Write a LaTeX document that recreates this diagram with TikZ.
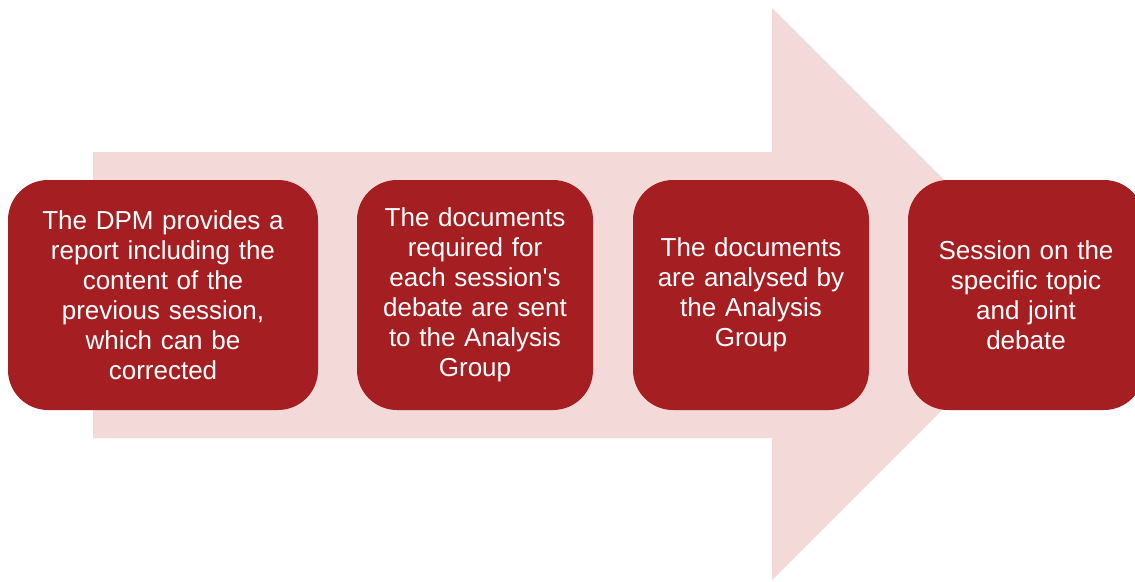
\documentclass[tikz,border=0pt]{standalone}
\usepackage{fontspec}
\setmainfont{Liberation Sans}
\definecolor{stepred}{HTML}{A51E22}
\definecolor{arrowpink}{HTML}{F4D9D9}
\begin{document}
\begin{tikzpicture}[x=1pt,y=-1pt,
  stepbox/.style={fill=stepred, draw=none, rounded corners=40pt,
    minimum height=230pt, text=white, align=center,
    font=\fontsize{26}{30}\selectfont, inner sep=0pt},
  narrowbox/.style={stepbox, minimum width=236pt, text width=220pt},
  widebox/.style={stepbox, minimum width=310pt, text width=290pt}]
\useasboundingbox (0,0) rectangle (1135,581);
\clip (0,0) rectangle (1135,581);
% broad background arrow
\fill[arrowpink] (93,152) -- (772,152) -- (772,8) -- (1058,294)
  -- (772,580) -- (772,438) -- (93,438) -- cycle;
% process steps
\node[widebox] (s1) at (163,295) {The DPM provides a\\report including the\\content of the\\previous session,\\which can be\\corrected};
\node[narrowbox] (s2) at (475,295) {The documents\\required for\\each session\textquotesingle s\\debate are sent\\to the Analysis\\Group};
\node[narrowbox] (s3) at (751,295) {The documents\\are analysed by\\the Analysis\\Group};
\node[narrowbox] (s4) at (1026,295) {Session on the\\specific topic\\and joint\\debate};
\end{tikzpicture}
\end{document}
